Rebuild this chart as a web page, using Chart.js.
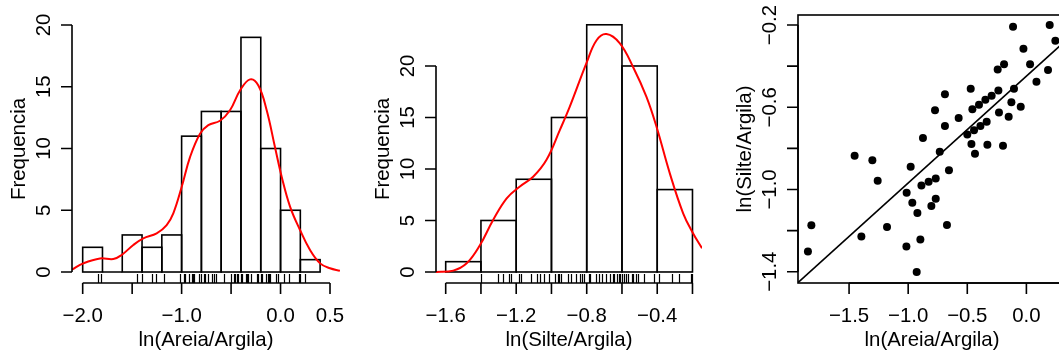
<!DOCTYPE html>
<html>
<head>
<meta charset="utf-8">
<script src="https://cdn.jsdelivr.net/npm/chart.js@4.4.1/dist/chart.umd.min.js"></script>
<style>
  html, body { margin: 0; padding: 0; background: #fff; overflow: hidden; }
  body { width: 1059px; height: 354px; position: relative; }
  canvas { position: absolute; top: 0; }
</style>
</head>
<body>
<canvas id="histAreia" width="353" height="354" style="left:0px"></canvas>
<canvas id="histSilte" width="353" height="354" style="left:353px"></canvas>
<canvas id="dispersao" width="370" height="354" style="left:706px"></canvas>
<script>
// Histograma ln(Areia/Argila)
const areiaBreaks = [-2.0, -1.8, -1.6, -1.4, -1.2, -1.0, -0.8, -0.6, -0.4, -0.2, 0.0, 0.2, 0.4];
const areiaCounts = [2, 0, 3, 2, 3, 11, 13, 13, 19, 10, 5, 1];
const densAreiaX = [-2.108, -1.994, -1.825, -1.69, -1.606, -1.488, -1.387, -1.252, -1.151, -1.084, -0.999, -0.915, -0.814, -0.73, -0.612, -0.511, -0.41, -0.308, -0.224, -0.14, -0.056, 0.012, 0.096, 0.197, 0.298, 0.4, 0.5, 0.6];
const densAreiaY = [0.2, 0.7, 1.1, 1.05, 1.38, 2.19, 2.73, 3.13, 3.8, 4.75, 6.9, 9.3, 11.2, 11.9, 12.25, 13.1, 14.7, 15.6, 15.1, 13.1, 10.1, 7.7, 5.3, 3.4, 1.78, 0.7, 0.3, 0.1];

// Histograma ln(Silte/Argila)
const silteBreaks = [-1.6, -1.4, -1.2, -1.0, -0.8, -0.6, -0.4, -0.2];
const silteCounts = [1, 5, 9, 15, 24, 20, 8];
const densSilteX = [-1.659, -1.557, -1.481, -1.406, -1.331, -1.254, -1.179, -1.104, -1.028, -0.952, -0.896, -0.801, -0.744, -0.688, -0.612, -0.537, -0.461, -0.404, -0.329, -0.253, -0.197, -0.146];
const densSilteY = [0, 0.13, 0.84, 2.6, 5.05, 7.15, 8.3, 9.25, 10.9, 13.8, 16.05, 20.3, 22.5, 23.1, 22.2, 19.9, 17.0, 14.1, 9.6, 5.7, 3.76, 2.3];

// Pontos (ln Areia/Argila, ln Silte/Argila)
const areiaPts = [-0.113, 0.197, 0.245, -0.025, 0.031, -0.189, -0.243, 0.183, 0.085, -0.471, -0.105, -0.237, -0.294, -0.689, -0.347, -0.401, -0.457, -0.127, -0.048, -0.773, -0.232, -0.15, -0.573, -0.689, -0.336, -0.389, -0.443, -0.5, -0.465, -0.33, -0.198, -0.435, -0.875, -0.733, -1.453, -1.303, -0.979, -0.655, -1.258, -0.767, -0.827, -0.888, -1.013, -0.965, -0.767, -0.804, -0.922, -0.672, -1.179, -1.819, -1.396, -0.897, -1.015, -1.848, -0.928];
const siltePts = [-0.208, -0.2, -0.276, -0.315, -0.391, -0.391, -0.416, -0.419, -0.476, -0.51, -0.51, -0.518, -0.544, -0.537, -0.563, -0.588, -0.61, -0.576, -0.597, -0.615, -0.626, -0.646, -0.652, -0.691, -0.67, -0.691, -0.712, -0.733, -0.779, -0.782, -0.787, -0.826, -0.75, -0.816, -0.836, -0.858, -0.889, -0.907, -0.957, -0.946, -0.962, -0.98, -1.016, -1.064, -1.045, -1.08, -1.114, -1.173, -1.182, -1.174, -1.229, -1.243, -1.277, -1.302, -1.401];

// Reta ajustada (extremos)
const retaX = [-1.93, 0.33];
const retaY = [-1.452, -0.277];

// Ticks e rotulos
const areiaTicks = [-2.0, -1.5, -1.0, -0.5, 0.0, 0.5];
const areiaTickLabels = ['\u22122.0', '', '\u22121.0', '', '0.0', '0.5'];
const silteTicks = [-1.6, -1.4, -1.2, -1.0, -0.8, -0.6, -0.4, -0.2];
const silteTickLabels = ['\u22121.6', '', '\u22121.2', '', '\u22120.8', '', '\u22120.4', ''];
const freqTicks = [0, 5, 10, 15, 20];
const freqTickLabels = ['0', '5', '10', '15', '20'];
const dispXTicks = [-1.5, -1.0, -0.5, 0.0, 0.5];
const dispXTickLabels = ['\u22121.5', '\u22121.0', '\u22120.5', '0.0', '0.5'];
const dispYTicks = [-1.4, -1.2, -1.0, -0.8, -0.6, -0.4, -0.2];
const dispYTickLabels = ['\u22121.4', '', '\u22121.0', '', '\u22120.6', '', '\u22120.2'];

const FONT = '20.4px "Liberation Sans", Arial, sans-serif';
const LW = 1.6;

// Eixos no estilo do R, desenhados com as escalas do Chart.js
function eixosR(cfg) {
    return {
        id: 'eixosR',
        afterDatasetDraw(chart, args) {
            // contorno das barras (inclui as de altura zero)
            if (args.meta.type !== 'bar') return;
            const ctx = chart.ctx;
            ctx.save();
            ctx.strokeStyle = '#000';
            ctx.lineWidth = LW;
            args.meta.data.forEach(bar => {
                const p = bar.getProps(['x', 'y', 'base', 'width'], true);
                ctx.strokeRect(p.x - p.width / 2, Math.min(p.y, p.base), p.width, Math.abs(p.base - p.y));
            });
            ctx.restore();
        },
        afterDraw(chart) {
            const ctx = chart.ctx;
            const area = chart.chartArea;
            const xs = chart.scales.x;
            const ys = chart.scales.y;
            const tick = 11;
            ctx.save();
            ctx.strokeStyle = '#000';
            ctx.fillStyle = '#000';
            ctx.lineWidth = LW;
            ctx.font = FONT;
            ctx.textAlign = 'center';
            ctx.textBaseline = 'middle';

            if (cfg.box) {
                ctx.strokeRect(area.left, area.top, area.right - area.left, area.bottom - area.top);
            }

            // eixo x
            const y0 = area.bottom;
            const xp = cfg.xTicks.map(v => xs.getPixelForValue(v));
            ctx.beginPath();
            ctx.moveTo(xp[0], y0);
            ctx.lineTo(xp[xp.length - 1], y0);
            xp.forEach(px => { ctx.moveTo(px, y0); ctx.lineTo(px, y0 + tick); });
            ctx.stroke();
            xp.forEach((px, i) => { if (cfg.xLabels[i]) ctx.fillText(cfg.xLabels[i], px, y0 + 33); });
            ctx.fillText(cfg.xTitle, (area.left + area.right) / 2, y0 + 57);

            // eixo y
            const x0 = area.left;
            const yp = cfg.yTicks.map(v => ys.getPixelForValue(v));
            ctx.beginPath();
            ctx.moveTo(x0, yp[0]);
            ctx.lineTo(x0, yp[yp.length - 1]);
            yp.forEach(py => { ctx.moveTo(x0, py); ctx.lineTo(x0 - tick, py); });
            ctx.stroke();
            yp.forEach((py, i) => {
                if (!cfg.yLabels[i]) return;
                ctx.save();
                ctx.translate(x0 - 28, py);
                ctx.rotate(-Math.PI / 2);
                ctx.fillText(cfg.yLabels[i], 0, 0);
                ctx.restore();
            });
            ctx.save();
            ctx.translate(x0 - 53, (area.top + area.bottom) / 2);
            ctx.rotate(-Math.PI / 2);
            ctx.fillText(cfg.yTitle, 0, 0);
            ctx.restore();

            // rug
            if (cfg.rug) {
                ctx.lineWidth = 1.2;
                ctx.beginPath();
                cfg.rug.forEach(v => {
                    const px = Math.round(xs.getPixelForValue(v)) + 0.5;
                    ctx.moveTo(px, area.bottom);
                    ctx.lineTo(px, area.bottom - 9);
                });
                ctx.stroke();
            }
            ctx.restore();
        }
    };
}

function histograma(canvasId, breaks, counts, densX, densY, lim, eixos, padding) {
    const barras = counts.map((c, i) => ({ x: (breaks[i] + breaks[i + 1]) / 2, y: c }));
    const curva = densX.map((x, i) => ({ x: x, y: densY[i] }));

    return new Chart(document.getElementById(canvasId), {
        type: 'bar',
        data: {
            datasets: [{
                type: 'line',
                data: curva,
                borderColor: '#ff0000',
                borderWidth: 2,
                pointRadius: 0,
                tension: 0.4,
                order: 0
            }, {
                type: 'bar',
                data: barras,
                backgroundColor: '#ffffff',
                borderWidth: 0,
                barPercentage: 1.0,
                categoryPercentage: 1.0,
                order: 1
            }]
        },
        options: {
            responsive: false,
            animation: false,
            events: [],
            layout: { padding: padding },
            plugins: { legend: { display: false }, tooltip: { enabled: false } },
            scales: {
                x: {
                    type: 'linear', display: false, offset: false,
                    min: lim.xmin, max: lim.xmax,
                    afterBuildTicks: s => { s.ticks = eixos.xTicks.map(v => ({ value: v })); }
                },
                y: { type: 'linear', display: false, min: lim.ymin, max: lim.ymax }
            }
        },
        plugins: [eixosR(eixos)]
    });
}

histograma('histAreia', areiaBreaks, areiaCounts, densAreiaX, densAreiaY,
    { xmin: -2.108, xmax: 0.601, ymin: -0.89, ymax: 20.81 },
    { xTicks: areiaTicks, xLabels: areiaTickLabels, yTicks: freqTicks, yLabels: freqTickLabels,
      xTitle: 'ln(Areia/Argila)', yTitle: 'Frequencia', rug: areiaPts },
    { left: 72, right: 13, top: 15, bottom: 71 });

histograma('histSilte', silteBreaks, silteCounts, densSilteX, densSilteY,
    { xmin: -1.655, xmax: -0.146, ymin: -1.07, ymax: 24.95 },
    { xTicks: silteTicks, xLabels: silteTickLabels, yTicks: freqTicks, yLabels: freqTickLabels,
      xTitle: 'ln(Silte/Argila)', yTitle: 'Frequencia', rug: siltePts },
    { left: 83, right: 4, top: 15, bottom: 71 });

// Dispersao com reta
const pontos = areiaPts.map((x, i) => ({ x: x, y: siltePts[i] }));
const reta = retaX.map((x, i) => ({ x: x, y: retaY[i] }));

new Chart(document.getElementById('dispersao'), {
    type: 'scatter',
    data: {
        datasets: [{
            data: pontos,
            backgroundColor: '#000',
            borderWidth: 0,
            pointRadius: 4
        }, {
            type: 'line',
            data: reta,
            borderColor: '#000',
            borderWidth: 1.6,
            pointRadius: 0
        }]
    },
    options: {
        responsive: false,
        animation: false,
        events: [],
        layout: { padding: { left: 92, right: 10, top: 15, bottom: 71 } },
        plugins: { legend: { display: false }, tooltip: { enabled: false } },
        scales: {
            x: { type: 'linear', display: false, min: -1.932, max: 0.335 },
            y: { type: 'linear', display: false, min: -1.455, max: -0.151 }
        }
    },
    plugins: [eixosR({ xTicks: dispXTicks, xLabels: dispXTickLabels, yTicks: dispYTicks, yLabels: dispYTickLabels,
        xTitle: 'ln(Areia/Argila)', yTitle: 'ln(Silte/Argila)', box: true })]
});
</script>
</body>
</html>
